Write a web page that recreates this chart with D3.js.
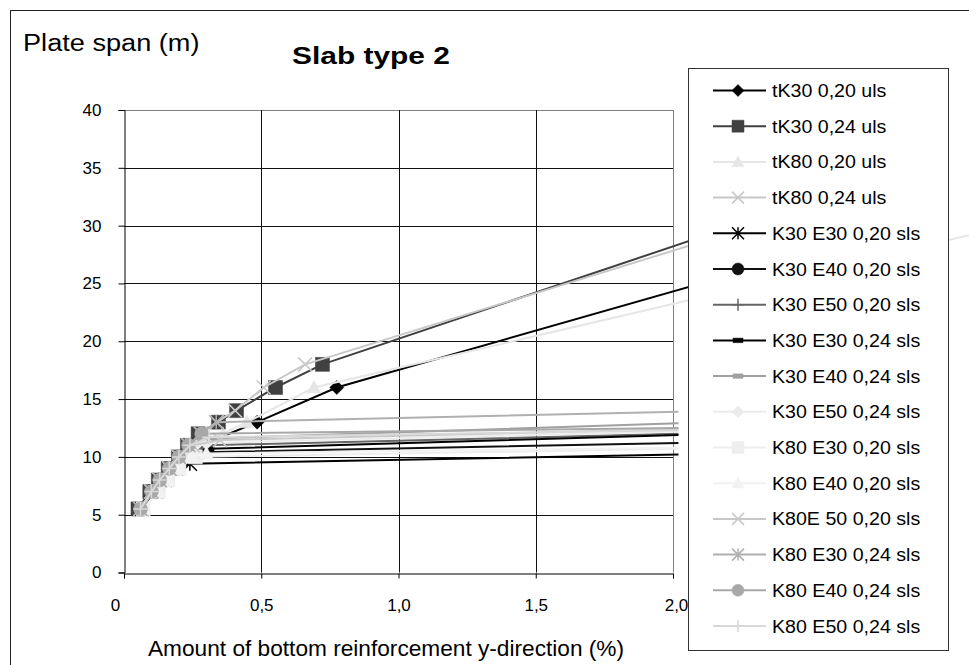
<!DOCTYPE html>
<html>
<head>
<meta charset="utf-8">
<script src="https://cdn.jsdelivr.net/npm/d3@7"></script>
<style>
  body { margin: 0; background: #fff; }
  svg { display: block; font-family: "Liberation Sans", Arial, sans-serif; }
</style>
</head>
<body>
<svg width="969" height="665"></svg>
<script>
// data: [reinforcement %, span m]
const seriesNames = [
  'tK30 0,20 uls', 'tK30 0,24 uls', 'tK80 0,20 uls', 'tK80 0,24 uls',
  'K30 E30 0,20 sls', 'K30 E40 0,20 sls', 'K30 E50 0,20 sls',
  'K30 E30 0,24 sls', 'K30 E40 0,24 sls', 'K30 E50 0,24 sls',
  'K80 E30 0,20 sls', 'K80 E40 0,20 sls', 'K80E 50 0,20 sls',
  'K80 E30 0,24 sls', 'K80 E40 0,24 sls', 'K80 E50 0,24 sls'
];

const tK30_020_uls = [[0.065, 5.5], [0.115, 7], [0.15, 8], [0.19, 9], [0.235, 10], [0.28, 11], [0.485, 13], [0.775, 16], [2.5, 27.7]];
const tK30_024_uls = [[0.051, 5.5], [0.094, 7], [0.125, 8], [0.161, 9], [0.198, 10], [0.231, 11], [0.27, 12], [0.344, 13], [0.41, 14], [0.552, 16], [0.723, 18], [2.6, 33]];
const tK80_020_uls = [[0.07, 5.5], [0.125, 7], [0.16, 8], [0.2, 9], [0.245, 10], [0.29, 11], [0.36, 12], [0.448, 13], [0.692, 16], [3.3, 30.4]];
const tK80_024_uls = [[0.06, 5.5], [0.1, 7], [0.13, 8], [0.165, 9], [0.2, 10], [0.235, 11], [0.28, 12], [0.338, 13], [0.405, 14], [0.509, 16], [0.66, 18], [2.5, 31.5]];

const K30E30_020 = [[0.065, 5.5], [0.115, 7], [0.15, 8], [0.19, 9], [0.24, 9.4], [2.02, 10.2]];
const K30E40_020 = [[0.065, 5.5], [0.115, 7], [0.15, 8], [0.19, 9], [0.235, 10], [0.28, 10.4], [2.02, 11.2]];
const K30E50_020 = [[0.065, 5.5], [0.115, 7], [0.15, 8], [0.19, 9], [0.235, 10], [0.3, 11], [2.02, 12.0]];
const K30E30_024 = [[0.06, 5.5], [0.105, 7], [0.14, 8], [0.18, 9], [0.22, 10], [0.31, 10.7], [2.02, 11.9]];
const K30E40_024 = [[0.06, 5.5], [0.105, 7], [0.14, 8], [0.18, 9], [0.22, 10], [0.26, 11], [0.33, 11.6], [2.02, 12.9]];
const K30E50_024 = [[0.06, 5.5], [0.105, 7], [0.14, 8], [0.18, 9], [0.22, 10], [0.26, 11], [0.3, 11.2], [2.02, 12.2]];
const K80E30_020 = [[0.07, 5.5], [0.125, 7], [0.16, 8], [0.2, 9], [0.26, 10], [2.02, 10.7]];
const K80E40_020 = [[0.07, 5.5], [0.125, 7], [0.16, 8], [0.2, 9], [0.245, 10], [0.3, 10.3], [2.02, 10.8]];
const K80E50_020 = [[0.06, 5.5], [0.1, 7], [0.13, 8], [0.165, 9], [0.2, 10], [0.25, 11], [0.35, 11.45], [2.02, 12.4]];
const K80E30_024 = [[0.06, 5.5], [0.1, 7], [0.13, 8], [0.165, 9], [0.2, 10], [0.235, 11], [0.28, 12], [0.336, 13], [2.02, 13.9]];
const K80E40_024 = [[0.06, 5.5], [0.1, 7], [0.13, 8], [0.165, 9], [0.2, 10], [0.235, 11], [0.283, 12], [2.02, 12.5]];
const K80E50_024 = [[0.06, 5.5], [0.1, 7], [0.13, 8], [0.165, 9], [0.2, 10], [0.24, 11], [0.31, 11.7], [2.02, 12.3]];

const seriesValues = [
  tK30_020_uls, tK30_024_uls, tK80_020_uls, tK80_024_uls,
  K30E30_020, K30E40_020, K30E50_020,
  K30E30_024, K30E40_024, K30E50_024,
  K80E30_020, K80E40_020, K80E50_020,
  K80E30_024, K80E40_024, K80E50_024
];

const xTicks = [0, 0.5, 1.0, 1.5, 2.0];
const xTickLabels = ['0', '0,5', '1,0', '1,5', '2,0'];
const yTicks = [0, 5, 10, 15, 20, 25, 30, 35, 40];

// look of each series
const seriesColors = ['#000', '#404040', '#e6e6e6', '#c8c8c8', '#000', '#111', '#666', '#000',
  '#a0a0a0', '#ececec', '#eeeeee', '#f2f2f2', '#c8c8c8', '#b0b0b0', '#a8a8a8', '#d8d8d8'];
const seriesMarkers = ['diamond', 'square', 'triangle', 'x', 'asterisk', 'circle', 'plus', 'dash',
  'dash', 'diamond', 'square', 'triangle', 'x', 'asterisk', 'circle', 'plus'];

const svg = d3.select('svg');
const width = +svg.attr('width');
const height = +svg.attr('height');

const x = d3.scaleLinear().domain([0, 2]).range([124, 673]);
const y = d3.scaleLinear().domain([0, 40]).range([572.5, 110]);

// the picture's text is a bit wider than Arial, stretch it
const stretch = (sel, k) => sel.each(function () {
  const w = this.getComputedTextLength();
  d3.select(this).attr('textLength', w * k).attr('lengthAdjust', 'spacingAndGlyphs');
});

// outer chart border
svg.append('rect')
  .attr('x', 10.5).attr('y', 10.5)
  .attr('width', width).attr('height', height)
  .attr('fill', '#fff').attr('stroke', '#222');

// gridlines
const grid = svg.append('g');
grid.selectAll('.hg').data(yTicks.slice(1)).enter().append('line')
  .attr('x1', x(0)).attr('x2', x(2))
  .attr('y1', d => Math.round(y(d)) + 0.5).attr('y2', d => Math.round(y(d)) + 0.5)
  .attr('stroke', d => d === 40 ? '#808080' : '#111');
grid.selectAll('.vg').data(xTicks.slice(1)).enter().append('line')
  .attr('y1', y(40)).attr('y2', y(0))
  .attr('x1', d => Math.round(x(d)) + 0.5).attr('x2', d => Math.round(x(d)) + 0.5)
  .attr('stroke', d => d === 2 ? '#808080' : '#111');

// axes
const yAxis = svg.append('g')
  .attr('transform', `translate(${Math.round(x(0)) + 0.5},0)`)
  .call(d3.axisLeft(y).tickValues(yTicks).tickSize(6).tickPadding(17));
const xAxis = svg.append('g')
  .attr('transform', `translate(0,${Math.round(y(0)) + 0.5})`)
  .call(d3.axisBottom(x).tickValues(xTicks).tickFormat((d, i) => xTickLabels[i]).tickSize(5).tickPadding(20));
[yAxis, xAxis].forEach(a => {
  a.attr('font-size', 17).attr('font-family', '"Liberation Sans", Arial, sans-serif');
  a.select('.domain').attr('stroke', '#000');
  a.selectAll('.tick line').attr('stroke', '#000');
  a.selectAll('.tick text').attr('fill', '#000');
});
xAxis.selectAll('.tick text').attr('dx', (d, i) => i === 0 ? -9 : i === 4 ? 3 : 0);

// marker shapes
const markerPath = (type, r) => {
  switch (type) {
    case 'diamond': return `M0,${-r}L${r},0L0,${r}L${-r},0Z`;
    case 'square': return `M${-r},${-r}H${r}V${r}H${-r}Z`;
    case 'triangle': return `M0,${-r}L${r},${r * 0.8}L${-r},${r * 0.8}Z`;
    case 'circle': return d3.symbol(d3.symbolCircle, Math.PI * r * r)();
    case 'dash': return `M${-r},${-r * 0.45}H${r}V${r * 0.45}H${-r}Z`;
    case 'x': return `M${-r},${-r}L${r},${r}M${-r},${r}L${r},${-r}`;
    case 'asterisk': return `M${-r},${-r}L${r},${r}M${-r},${r}L${r},${-r}M0,${-r}V${r}`;
    case 'plus': return `M${-r},0H${r}M0,${-r}V${r}`;
  }
};
const stroked = t => t === 'x' || t === 'asterisk' || t === 'plus';
const drawMarker = (g, type, color, r) => {
  g.append('path')
    .attr('d', markerPath(type, r))
    .attr('fill', stroked(type) ? 'none' : color)
    .attr('stroke', color)
    .attr('stroke-width', stroked(type) ? 1.5 : 0.5);
};

// series
const line = d3.line().x(d => x(d[0])).y(d => y(d[1]));
const plot = svg.append('g');
seriesValues.forEach((pts, i) => {
  const g = plot.append('g');
  g.append('path')
    .attr('d', line(pts))
    .attr('fill', 'none')
    .attr('stroke', seriesColors[i])
    .attr('stroke-width', 2);
  pts.filter(d => d[0] <= 2).forEach(d => {
    const m = g.append('g').attr('transform', `translate(${x(d[0])},${y(d[1])})`);
    const r = seriesMarkers[i] === 'dash' ? 5 : 7;
    drawMarker(m, seriesMarkers[i], seriesColors[i], r);
  });
});

// legend
const legend = svg.append('g');
legend.append('rect')
  .attr('x', 688.5).attr('y', 68.5).attr('width', 260).attr('height', 582)
  .attr('fill', '#fff').attr('stroke', '#333');
const rowY = i => 90.5 + i * 35.7;
seriesNames.forEach((name, i) => {
  const row = legend.append('g').attr('transform', `translate(0,${rowY(i)})`);
  row.append('line')
    .attr('x1', 713).attr('x2', 766)
    .attr('stroke', seriesColors[i]).attr('stroke-width', 2);
  const m = row.append('g').attr('transform', 'translate(738,0)');
  drawMarker(m, seriesMarkers[i], seriesColors[i], seriesMarkers[i] === 'dash' ? 5 : 6);
  row.append('text')
    .attr('x', 772).attr('y', 6.5)
    .attr('font-size', 17.5).attr('fill', '#000')
    .text(name)
    .call(stretch, 1.12);
});

// titles
svg.append('text')
  .attr('x', 23).attr('y', 51)
  .attr('font-size', 23).attr('fill', '#000')
  .text('Plate span (m)')
  .call(stretch, 1.18);
svg.append('text')
  .attr('x', 292).attr('y', 64)
  .attr('font-size', 23).attr('font-weight', 'bold').attr('fill', '#000')
  .text('Slab type 2')
  .call(stretch, 1.3);
svg.append('text')
  .attr('x', 148).attr('y', 656)
  .attr('font-size', 22).attr('fill', '#000')
  .text('Amount of bottom reinforcement y-direction (%)')
  .call(stretch, 1.03);
</script>
</body>
</html>
